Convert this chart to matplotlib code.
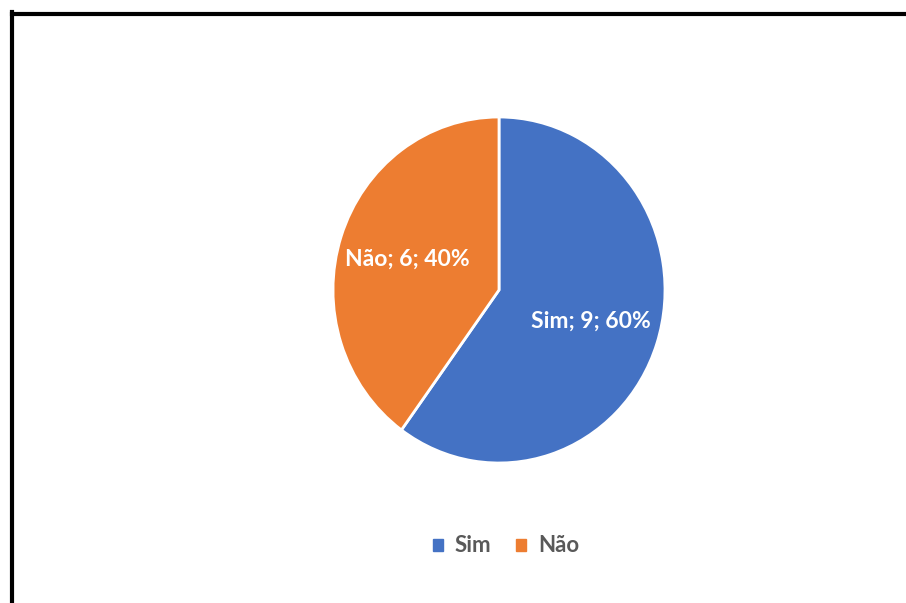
import matplotlib.pyplot as plt
from matplotlib.lines import Line2D

categorias = ['Sim', 'Não']
valores = [9, 6]
cores = ['#4472C4', '#ED7D31']

W, H = 906, 603
fig = plt.figure(figsize=(W / 100, H / 100), dpi=100)
fig.patch.set_facecolor('white')

# moldura (só topo e lado esquerdo aparecem)
fig.add_artist(Line2D([12 / W, 12 / W], [0, 1 - 12 / H], color='black', lw=3, transform=fig.transFigure))
fig.add_artist(Line2D([12 / W, 1], [1 - 14 / H, 1 - 14 / H], color='black', lw=3, transform=fig.transFigure))

ax = fig.add_axes([333 / W, 1 - 463 / H, 332 / W, 346 / H])
total = sum(valores)
wedges, texts, autotexts = ax.pie(
    valores, colors=cores, startangle=90, counterclock=False,
    autopct='%1.0f%%', pctdistance=0.58,
    wedgeprops=dict(edgecolor='white', linewidth=2),
)
for t, cat, v in zip(autotexts, categorias, valores):
    t.set_text(f'{cat}; {v}; {round(100 * v / total)}%')
    t.set_color('white')
    t.set_fontsize(16.5)
    t.set_fontweight('bold')
    t.set_family('Lato')
ax.set_aspect('auto')
ax.set_xlim(-1, 1)
ax.set_ylim(-1, 1)

handles = [plt.Rectangle((0, 0), 1, 1, color=c) for c in cores]
fig.legend(handles, categorias, loc='center', bbox_to_anchor=(506 / W, 1 - 546 / H),
           ncol=2, frameon=False, handlelength=0.45, handleheight=0.45,
           handletextpad=0.55, columnspacing=1.1,
           prop=dict(family='Lato', size=16, weight='bold'), labelcolor='#595959')

fig.savefig('out.png', dpi=100)
